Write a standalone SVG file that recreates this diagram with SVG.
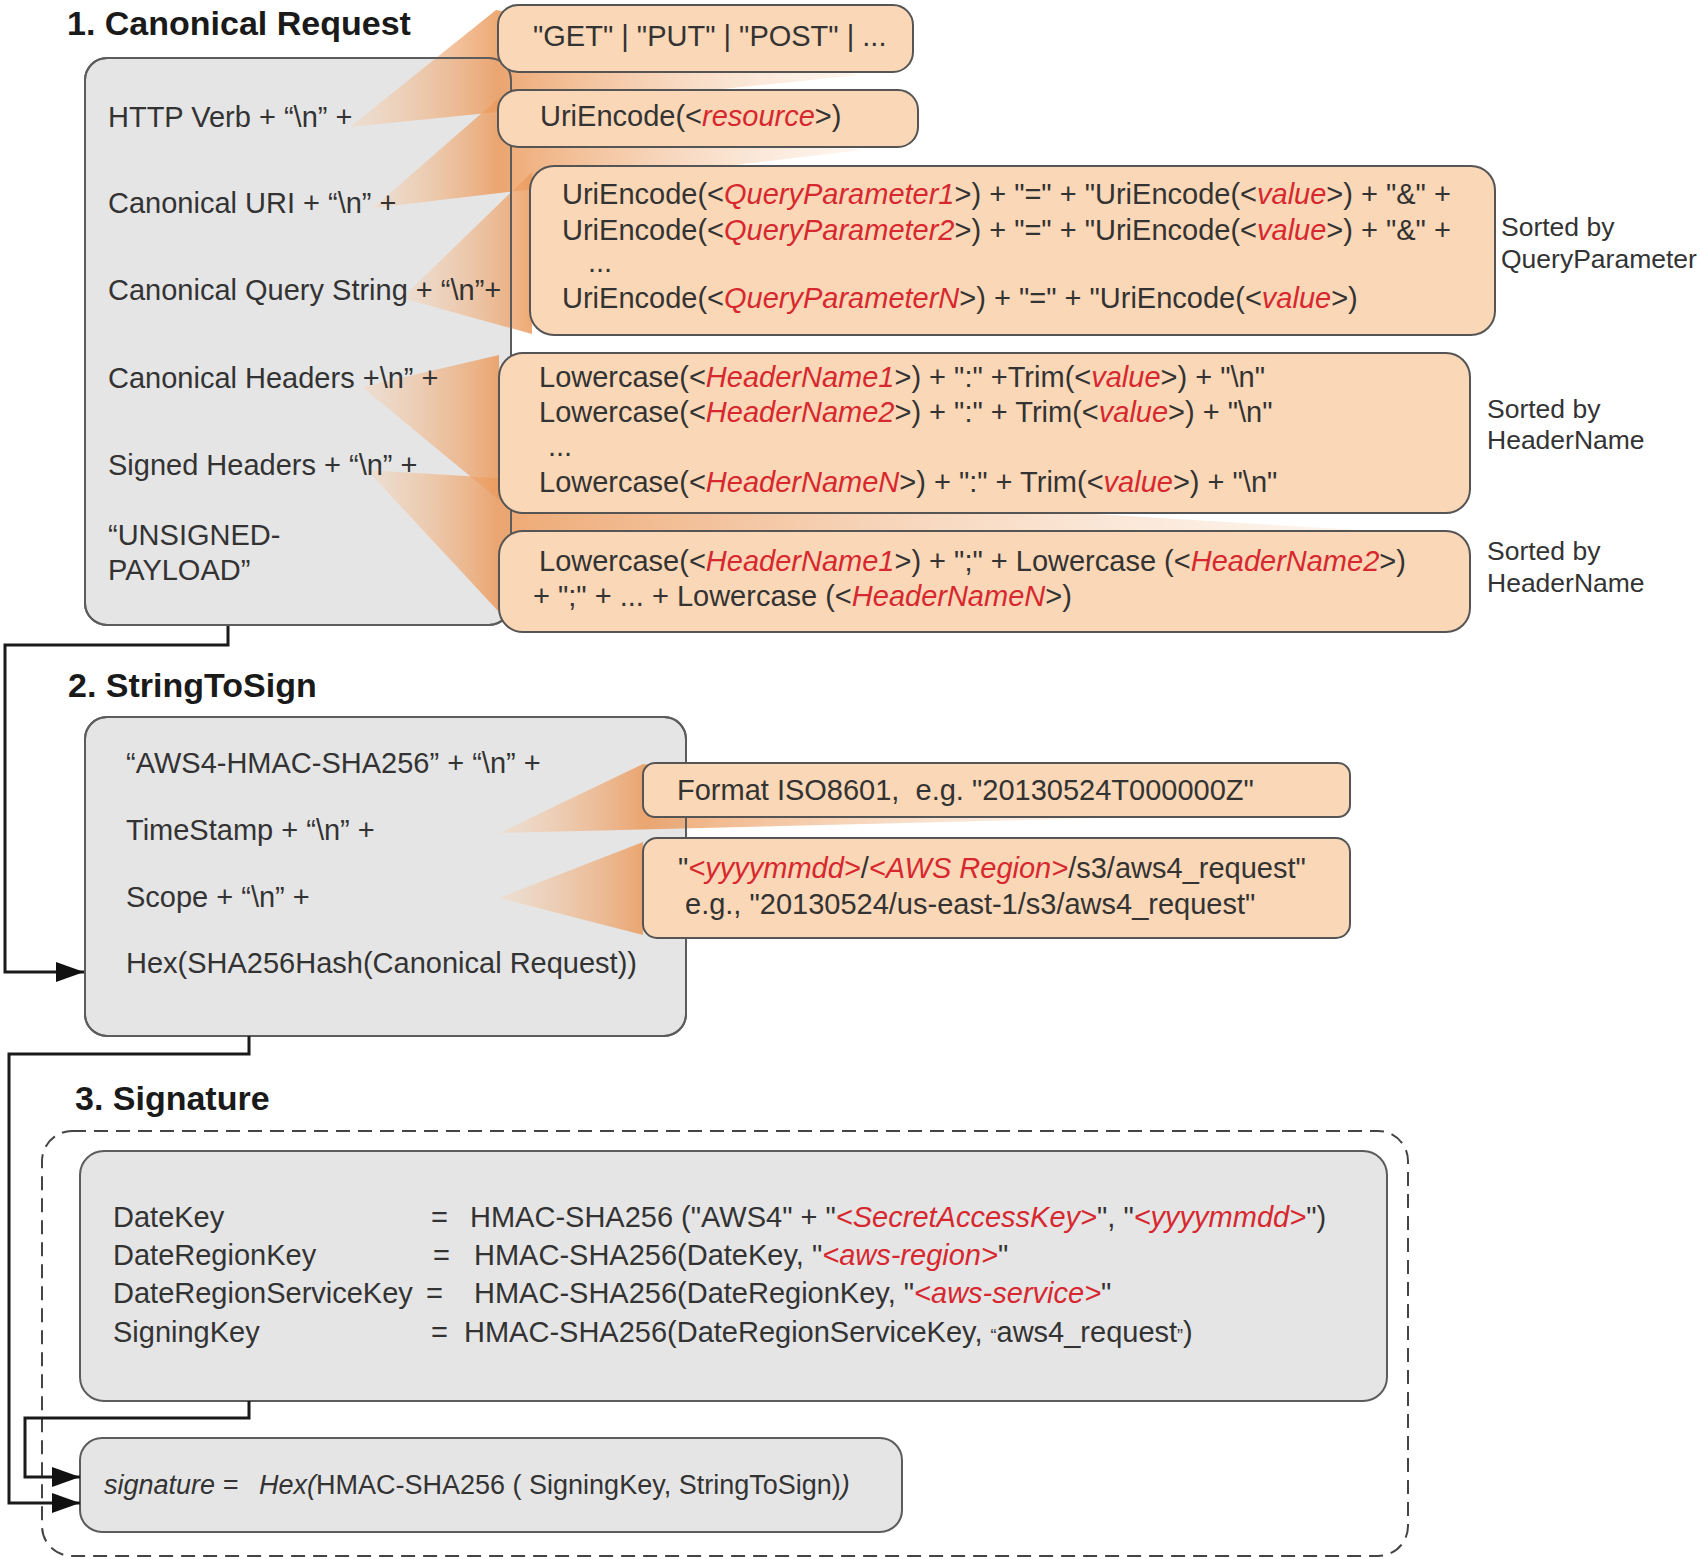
<svg xmlns="http://www.w3.org/2000/svg" width="1700" height="1559" viewBox="0 0 1700 1559">
<defs>
<style>
text{font-family:"Liberation Sans",Arial,sans-serif;font-size:29px;fill:#333333}
.title{font-weight:bold;font-size:34px;fill:#1a1a1a}
.v{fill:#d7282f;font-style:italic}
.note{font-size:26.5px}
.sig{font-size:27px}
.gray{fill:#e5e5e5;stroke:#5c5c5c;stroke-width:2}
.grayb{fill:none;stroke:#5c5c5c;stroke-width:2}
.org{fill:#fad7b6;stroke:#555555;stroke-width:2}
.conn{fill:none;stroke:#1a1a1a;stroke-width:3}
</style>
<marker id="ah" markerUnits="userSpaceOnUse" markerWidth="30" markerHeight="20" refX="28" refY="10" orient="auto">
<path d="M0,0 L28,10 L0,20 z" fill="#111"/>
</marker>
<linearGradient id="gA" gradientUnits="userSpaceOnUse" x1="350" y1="0" x2="860" y2="0"><stop offset="0" stop-color="#f5d6bb" stop-opacity="0.45"/><stop offset="0.29" stop-color="#eb9a5c" stop-opacity="0.85"/><stop offset="1" stop-color="#fbe6d3" stop-opacity="0.35"/></linearGradient>
<linearGradient id="gB" gradientUnits="userSpaceOnUse" x1="373" y1="0" x2="861" y2="0"><stop offset="0" stop-color="#f5d6bb" stop-opacity="0.45"/><stop offset="0.258" stop-color="#eb9a5c" stop-opacity="0.85"/><stop offset="1" stop-color="#fbe6d3" stop-opacity="0.35"/></linearGradient>
<linearGradient id="gC" gradientUnits="userSpaceOnUse" x1="402" y1="0" x2="532" y2="0"><stop offset="0" stop-color="#f5d6bb" stop-opacity="0.45"/><stop offset="1" stop-color="#eb9a5c" stop-opacity="0.85"/></linearGradient>
<linearGradient id="gD" gradientUnits="userSpaceOnUse" x1="362" y1="0" x2="499" y2="0"><stop offset="0" stop-color="#f5d6bb" stop-opacity="0.45"/><stop offset="1" stop-color="#eb9a5c" stop-opacity="0.85"/></linearGradient>
<linearGradient id="gE" gradientUnits="userSpaceOnUse" x1="367" y1="0" x2="1375" y2="0"><stop offset="0" stop-color="#f5d6bb" stop-opacity="0.45"/><stop offset="0.13" stop-color="#eb9a5c" stop-opacity="0.85"/><stop offset="1" stop-color="#fbe6d3" stop-opacity="0.35"/></linearGradient>
<linearGradient id="gF" gradientUnits="userSpaceOnUse" x1="499" y1="0" x2="1110" y2="0"><stop offset="0" stop-color="#f5d6bb" stop-opacity="0.45"/><stop offset="0.236" stop-color="#eb9a5c" stop-opacity="0.85"/><stop offset="1" stop-color="#fbe6d3" stop-opacity="0.35"/></linearGradient>
<linearGradient id="gG" gradientUnits="userSpaceOnUse" x1="499" y1="0" x2="643" y2="0"><stop offset="0" stop-color="#f5d6bb" stop-opacity="0.45"/><stop offset="1" stop-color="#eb9a5c" stop-opacity="0.85"/></linearGradient>
</defs>
<rect width="1700" height="1559" fill="#ffffff"/>

<!-- Section titles -->
<text class="title" x="67" y="35">1. Canonical Request</text>
<text class="title" x="68" y="697">2. StringToSign</text>
<text class="title" x="75" y="1110">3. Signature</text>

<!-- gray box backgrounds -->
<rect class="gray" x="85" y="58" width="426" height="567" rx="22"/>
<rect class="gray" x="85" y="717" width="601" height="319" rx="22"/>

<!-- callout wedges -->
<g id="callouts">
<polygon points="350,127 496,10 860,75" fill="url(#gA)"/>
<polygon points="373,208 499,98 861,150" fill="url(#gB)"/>
<polygon points="402,298 532,172 532,334" fill="url(#gC)"/>
<polygon points="362,387 499,355 499,500" fill="url(#gD)"/>
<polygon points="367,470 1375,531 499,612" fill="url(#gE)"/>
<polygon points="499,833 643,764 1110,818" fill="url(#gF)"/>
<polygon points="499,898 643,842 643,935" fill="url(#gG)"/>
</g>

<g id="canonical-request">
<rect class="grayb" x="85" y="58" width="426" height="567" rx="22"/>
<text x="108" y="127">HTTP Verb + “\n” +</text>
<text x="108" y="213">Canonical URI + “\n” +</text>
<text x="108" y="300">Canonical Query String + “\n”+</text>
<text x="108" y="388">Canonical Headers +\n” +</text>
<text x="108" y="475">Signed Headers + “\n” +</text>
<text x="108" y="545">“UNSIGNED-</text>
<text x="108" y="580">PAYLOAD”</text>
</g>

<g id="string-to-sign">
<rect class="grayb" x="85" y="717" width="601" height="319" rx="22"/>
<text x="126" y="773">“AWS4-HMAC-SHA256” + “\n” +</text>
<text x="126" y="840">TimeStamp + “\n” +</text>
<text x="126" y="907">Scope + “\n” +</text>
<text x="126" y="973">Hex(SHA256Hash(Canonical Request))</text>
</g>

<g id="verb">
<rect class="org" x="498" y="5" width="415" height="67" rx="20"/>
<text x="533" y="46">"GET" | "PUT" | "POST" | ...</text>
</g>
<g id="uri">
<rect class="org" x="498" y="90" width="420" height="57" rx="20"/>
<text x="540" y="126">UriEncode(&lt;<tspan class="v">resource</tspan>&gt;)</text>
</g>
<g id="query">
<rect class="org" x="530" y="166" width="965" height="169" rx="24"/>
<text x="562" y="204">UriEncode(&lt;<tspan class="v">QueryParameter1</tspan>&gt;) + "=" + "UriEncode(&lt;<tspan class="v">value</tspan>&gt;) + "&amp;" +</text>
<text x="562" y="240">UriEncode(&lt;<tspan class="v">QueryParameter2</tspan>&gt;) + "=" + "UriEncode(&lt;<tspan class="v">value</tspan>&gt;) + "&amp;" +</text>
<text x="588" y="272">...</text>
<text x="562" y="308">UriEncode(&lt;<tspan class="v">QueryParameterN</tspan>&gt;) + "=" + "UriEncode(&lt;<tspan class="v">value</tspan>&gt;)</text>
</g>
<g id="query-note">
<text class="note" x="1501" y="236">Sorted by</text>
<text class="note" x="1501" y="268">QueryParameter</text>
</g>
<g id="headers">
<rect class="org" x="499" y="353" width="971" height="160" rx="24"/>
<text x="539" y="387">Lowercase(&lt;<tspan class="v">HeaderName1</tspan>&gt;) + ":" +Trim(&lt;<tspan class="v">value</tspan>&gt;) + "\n"</text>
<text x="539" y="422">Lowercase(&lt;<tspan class="v">HeaderName2</tspan>&gt;) + ":" + Trim(&lt;<tspan class="v">value</tspan>&gt;) + "\n"</text>
<text x="548" y="456">...</text>
<text x="539" y="492">Lowercase(&lt;<tspan class="v">HeaderNameN</tspan>&gt;) + ":" + Trim(&lt;<tspan class="v">value</tspan>&gt;) + "\n"</text>
</g>
<g id="headers-note">
<text class="note" x="1487" y="418">Sorted by</text>
<text class="note" x="1487" y="449">HeaderName</text>
</g>
<g id="signed-headers">
<rect class="org" x="499" y="531" width="971" height="101" rx="24"/>
<text x="539" y="571">Lowercase(&lt;<tspan class="v">HeaderName1</tspan>&gt;) + ";" + Lowercase (&lt;<tspan class="v">HeaderName2</tspan>&gt;)</text>
<text x="533" y="606">+ ";" + ... + Lowercase (&lt;<tspan class="v">HeaderNameN</tspan>&gt;)</text>
</g>
<g id="signed-note">
<text class="note" x="1487" y="560">Sorted by</text>
<text class="note" x="1487" y="592">HeaderName</text>
</g>

<g id="timestamp">
<rect class="org" x="643" y="763" width="707" height="54" rx="12"/>
<text x="677" y="800">Format ISO8601,&#160; e.g. "20130524T000000Z"</text>
</g>
<g id="scope">
<rect class="org" x="643" y="838" width="707" height="100" rx="14"/>
<text x="678" y="878">"<tspan class="v">&lt;yyyymmdd&gt;</tspan>/<tspan class="v">&lt;AWS Region&gt;</tspan>/s3/aws4_request"</text>
<text x="685" y="914">e.g., "20130524/us-east-1/s3/aws4_request"</text>
</g>

<!-- Signature -->
<rect id="signature-group" x="42" y="1131" width="1366" height="425" rx="30" fill="none" stroke="#444" stroke-width="2" stroke-dasharray="14 8"/>
<g id="signing-key">
<rect class="gray" x="80" y="1151" width="1307" height="250" rx="24"/>
<text x="113" y="1227">DateKey</text>
<text x="431" y="1227">=</text>
<text x="470" y="1227">HMAC-SHA256 ("AWS4" + "<tspan class="v">&lt;SecretAccessKey&gt;</tspan>", "<tspan class="v">&lt;yyyymmdd&gt;</tspan>")</text>
<text x="113" y="1265">DateRegionKey</text>
<text x="433" y="1265">=</text>
<text x="474" y="1265">HMAC-SHA256(DateKey, "<tspan class="v">&lt;aws-region&gt;</tspan>"</text>
<text x="113" y="1303">DateRegionServiceKey</text>
<text x="426" y="1303">=</text>
<text x="474" y="1303">HMAC-SHA256(DateRegionKey, "<tspan class="v">&lt;aws-service&gt;</tspan>"</text>
<text x="113" y="1342">SigningKey</text>
<text x="431" y="1342">=</text>
<text x="464" y="1342">HMAC-SHA256(DateRegionServiceKey, <tspan font-size="18">“</tspan>aws4_request<tspan font-size="18">”</tspan>)</text>
</g>
<g id="signature">
<rect class="gray" x="80" y="1438" width="822" height="94" rx="22"/>
<text class="sig" x="104" y="1494"><tspan font-style="italic">signature =</tspan></text>
<text class="sig" x="259" y="1494"><tspan font-style="italic">Hex(</tspan>HMAC-SHA256 ( SigningKey, StringToSign)<tspan font-style="italic">)</tspan></text>
</g>

<g id="connectors">
<path class="conn" d="M228,626 V645 H5 V972 H84" marker-end="url(#ah)"/>
<path class="conn" d="M249,1036 V1054 H9 V1503 H80" marker-end="url(#ah)"/>
<path class="conn" d="M249,1401 V1418 H25 V1477 H80" marker-end="url(#ah)"/>
</g>
</svg>
